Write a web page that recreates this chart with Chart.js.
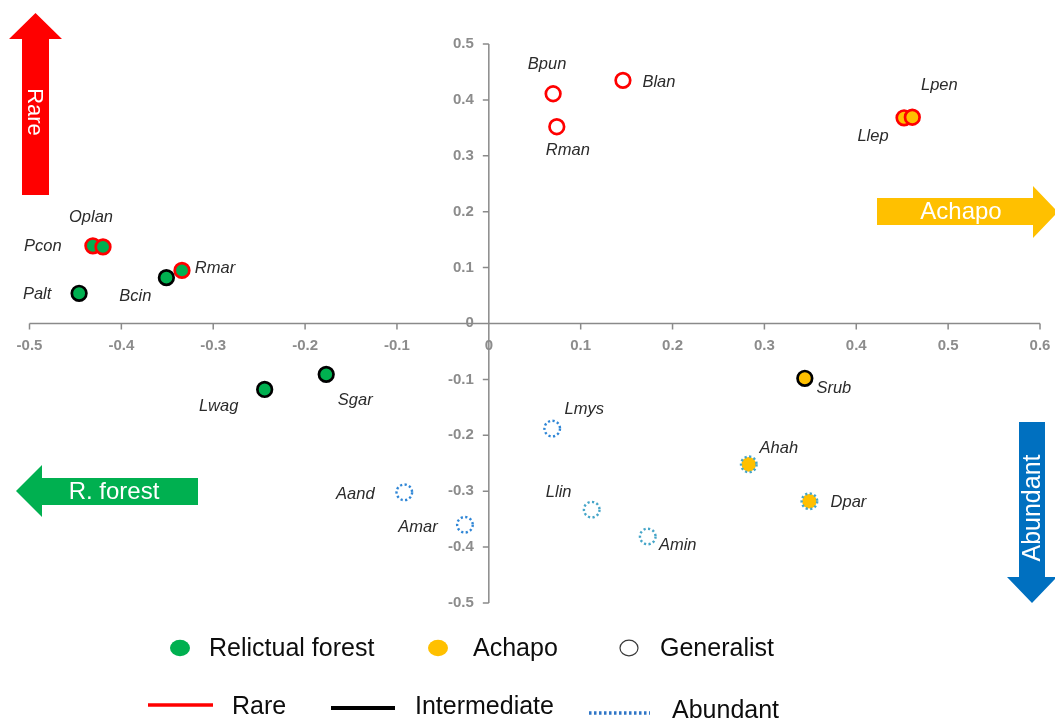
<!DOCTYPE html>
<html>
<head>
<meta charset="utf-8">
<script src="https://cdn.jsdelivr.net/npm/chart.js@4"></script>
<style>
  html, body { margin: 0; padding: 0; background: #ffffff; }
  #c { display: block; }
</style>
</head>
<body>
<canvas id="c" width="1055" height="722"></canvas>
<script>
// ---- Species coordinates, grouped by habitat and abundance ----
const forestInterNames = ['Palt', 'Bcin', 'Lwag', 'Sgar'];
const forestInterX = [-0.446, -0.351, -0.244, -0.177];
const forestInterY = [0.054, 0.082, -0.118, -0.091];

const forestRareNames = ['Pcon', 'Oplan', 'Rmar'];
const forestRareX = [-0.431, -0.420, -0.334];
const forestRareY = [0.139, 0.137, 0.095];

const achapoRareNames = ['Llep', 'Lpen'];
const achapoRareX = [0.452, 0.461];
const achapoRareY = [0.368, 0.369];

const achapoInterNames = ['Srub'];
const achapoInterX = [0.344];
const achapoInterY = [-0.098];

const achapoAbundNames = ['Ahah', 'Dpar'];
const achapoAbundX = [0.283, 0.349];
const achapoAbundY = [-0.252, -0.318];

const generalistRareNames = ['Bpun', 'Rman', 'Blan'];
const generalistRareX = [0.070, 0.074, 0.146];
const generalistRareY = [0.411, 0.352, 0.435];

const generalistAbundNames = ['Aand', 'Amar', 'Lmys', 'Llin', 'Amin'];
const generalistAbundX = [-0.092, -0.026, 0.069, 0.112, 0.173];
const generalistAbundY = [-0.302, -0.360, -0.188, -0.333, -0.381];

// ---- Axis ticks ----
const xTickValues = [-0.5, -0.4, -0.3, -0.2, -0.1, 0, 0.1, 0.2, 0.3, 0.4, 0.5, 0.6];
const xTickLabels = ['-0.5', '-0.4', '-0.3', '-0.2', '-0.1', '0', '0.1', '0.2', '0.3', '0.4', '0.5', '0.6'];
const yTickValues = [0.5, 0.4, 0.3, 0.2, 0.1, 0, -0.1, -0.2, -0.3, -0.4, -0.5];
const yTickLabels = ['0.5', '0.4', '0.3', '0.2', '0.1', '0', '-0.1', '-0.2', '-0.3', '-0.4', '-0.5'];

// ---- Legend entries ----
const habitatLegend = ['Relictual forest', 'Achapo', 'Generalist'];
const abundanceLegend = ['Rare', 'Intermediate', 'Abundant'];

const GREEN = '#00b050';
const YELLOW = '#ffc000';
const RED = '#ff0000';
const BLUE = '#2f86d6';
const TEAL = '#45a5c8';

function pts(xs, ys) { return xs.map((x, i) => ({ x: x, y: ys[i] })); }

// Offsets (px) of each name label from its marker centre
const labelOffset = {
  Palt: [-42, 1], Bcin: [-31, 19], Lwag: [-46, 17], Sgar: [29, 26],
  Pcon: [-50, 1], Oplan: [-12, -30], Rmar: [33, -2],
  Llep: [-31, 19], Lpen: [27, -32], Srub: [29, 10],
  Ahah: [30, -16], Dpar: [39, 1],
  Bpun: [-6, -29], Rman: [11, 24], Blan: [36, 2],
  Aand: [-49, 2], Amar: [-47, 3], Lmys: [32, -19], Llin: [-33, -17], Amin: [30, 9]
};

const datasets = [
  { names: forestInterNames, data: pts(forestInterX, forestInterY),
    backgroundColor: GREEN, borderColor: '#000000' },
  { names: forestRareNames, data: pts(forestRareX, forestRareY),
    backgroundColor: GREEN, borderColor: RED },
  { names: achapoRareNames, data: pts(achapoRareX, achapoRareY),
    backgroundColor: YELLOW, borderColor: RED },
  { names: achapoInterNames, data: pts(achapoInterX, achapoInterY),
    backgroundColor: YELLOW, borderColor: '#000000' },
  { names: achapoAbundNames, data: pts(achapoAbundX, achapoAbundY),
    backgroundColor: YELLOW, borderColor: 'rgba(0,0,0,0)', dotted: [TEAL, TEAL] },
  { names: generalistRareNames, data: pts(generalistRareX, generalistRareY),
    backgroundColor: '#ffffff', borderColor: RED },
  { names: generalistAbundNames, data: pts(generalistAbundX, generalistAbundY),
    backgroundColor: '#ffffff', borderColor: 'rgba(0,0,0,0)', dotted: [BLUE, BLUE, BLUE, TEAL, TEAL] }
].map(d => Object.assign({
  pointRadius: 7.3, pointHoverRadius: 7.3, borderWidth: 2.7, pointStyle: 'circle'
}, d));

// Axes crossing at the origin, with tick marks and labels
const crossAxes = {
  id: 'crossAxes',
  beforeDatasetsDraw(chart) {
    const ctx = chart.ctx, xs = chart.scales.x, ys = chart.scales.y, a = chart.chartArea;
    const x0 = xs.getPixelForValue(0), y0 = ys.getPixelForValue(0);
    ctx.save();
    ctx.strokeStyle = '#8a8a8a';
    ctx.lineWidth = 1.5;
    ctx.beginPath();
    ctx.moveTo(a.left, y0); ctx.lineTo(a.right, y0);
    ctx.moveTo(x0, a.top); ctx.lineTo(x0, a.bottom);
    xTickValues.forEach(v => {
      const px = xs.getPixelForValue(v);
      ctx.moveTo(px, y0); ctx.lineTo(px, y0 + 6);
    });
    yTickValues.forEach(v => {
      const py = ys.getPixelForValue(v);
      ctx.moveTo(x0 - 6, py); ctx.lineTo(x0, py);
    });
    ctx.stroke();

    ctx.fillStyle = '#8c8c8c';
    ctx.font = 'bold 15px "Liberation Sans", Arial, sans-serif';
    ctx.textBaseline = 'middle';
    ctx.textAlign = 'center';
    xTickValues.forEach((v, i) => {
      ctx.fillText(xTickLabels[i], xs.getPixelForValue(v), y0 + 22);
    });
    ctx.textAlign = 'right';
    yTickValues.forEach((v, i) => {
      ctx.fillText(yTickLabels[i], x0 - 15, ys.getPixelForValue(v) - (v === 0 ? 1 : 0));
    });
    ctx.restore();
  }
};

// Dotted marker outlines and species name labels
const markerExtras = {
  id: 'markerExtras',
  afterDatasetsDraw(chart) {
    const ctx = chart.ctx;
    ctx.save();
    chart.data.datasets.forEach((ds, di) => {
      const meta = chart.getDatasetMeta(di);
      meta.data.forEach((el, i) => {
        if (ds.dotted) {
          ctx.beginPath();
          ctx.setLineDash([2.2, 2.4]);
          ctx.lineWidth = 2.4;
          ctx.strokeStyle = ds.dotted[i];
          ctx.arc(el.x, el.y, 7.8, 0, Math.PI * 2);
          ctx.stroke();
          ctx.setLineDash([]);
        }
      });
    });
    ctx.fillStyle = '#2b2b2b';
    ctx.font = 'italic 16.5px "Liberation Sans", Arial, sans-serif';
    ctx.textAlign = 'center';
    ctx.textBaseline = 'middle';
    chart.data.datasets.forEach((ds, di) => {
      const meta = chart.getDatasetMeta(di);
      meta.data.forEach((el, i) => {
        const name = ds.names[i];
        const off = labelOffset[name] || [0, -20];
        ctx.fillText(name, el.x + off[0], el.y + off[1]);
      });
    });
    ctx.restore();
  }
};

// Direction arrows and the two-row legend
function poly(ctx, p, color) {
  ctx.beginPath();
  ctx.moveTo(p[0][0], p[0][1]);
  for (let i = 1; i < p.length; i++) ctx.lineTo(p[i][0], p[i][1]);
  ctx.closePath();
  ctx.fillStyle = color;
  ctx.fill();
}

const decorations = {
  id: 'decorations',
  afterDraw(chart) {
    const ctx = chart.ctx;
    ctx.save();
    // Rare (up)
    poly(ctx, [[22, 195], [22, 39], [9, 39], [35.5, 13], [62, 39], [49, 39], [49, 195]], RED);
    // Achapo (right)
    poly(ctx, [[877, 198], [1033, 198], [1033, 186], [1058, 212], [1033, 238], [1033, 225], [877, 225]], YELLOW);
    // R. forest (left)
    poly(ctx, [[198, 478], [42, 478], [42, 465], [16, 491], [42, 517], [42, 505], [198, 505]], GREEN);
    // Abundant (down)
    poly(ctx, [[1019, 422], [1045, 422], [1045, 577], [1057, 577], [1032, 603], [1007, 577], [1019, 577]], '#0070c0');

    ctx.fillStyle = '#ffffff';
    ctx.textAlign = 'center';
    ctx.textBaseline = 'middle';
    ctx.font = '24px "Liberation Sans", Arial, sans-serif';
    ctx.fillText('Achapo', 961, 212);
    ctx.fillText('R. forest', 114, 492);
    ctx.save();
    ctx.translate(34, 112);
    ctx.rotate(Math.PI / 2);
    ctx.font = '22px "Liberation Sans", Arial, sans-serif';
    ctx.fillText('Rare', 0, 0);
    ctx.restore();
    ctx.save();
    ctx.translate(1033, 508);
    ctx.rotate(-Math.PI / 2);
    ctx.font = '25px "Liberation Sans", Arial, sans-serif';
    ctx.fillText('Abundant', 0, 0);
    ctx.restore();

    // Legend row 1: habitat
    ctx.textAlign = 'left';
    ctx.fillStyle = '#000000';
    ctx.font = '25px "Liberation Sans", Arial, sans-serif';
    const row1 = 648;
    ctx.beginPath(); ctx.ellipse(180, row1, 10, 8.3, 0, 0, Math.PI * 2);
    ctx.fillStyle = GREEN; ctx.fill();
    ctx.beginPath(); ctx.ellipse(438, row1, 10, 8.3, 0, 0, Math.PI * 2);
    ctx.fillStyle = YELLOW; ctx.fill();
    ctx.beginPath(); ctx.ellipse(629, row1, 9, 7.8, 0, 0, Math.PI * 2);
    ctx.fillStyle = '#ffffff'; ctx.fill();
    ctx.strokeStyle = '#3a3a3a'; ctx.lineWidth = 1.2; ctx.stroke();
    ctx.fillStyle = '#0d0d0d';
    ctx.fillText(habitatLegend[0], 209, row1 + 1);
    ctx.fillText(habitatLegend[1], 473, row1 + 1);
    ctx.fillText(habitatLegend[2], 660, row1 + 1);

    // Legend row 2: abundance
    ctx.lineWidth = 3.5;
    ctx.strokeStyle = RED;
    ctx.beginPath(); ctx.moveTo(148, 705); ctx.lineTo(213, 705); ctx.stroke();
    ctx.lineWidth = 4;
    ctx.strokeStyle = '#000000';
    ctx.beginPath(); ctx.moveTo(331, 708); ctx.lineTo(395, 708); ctx.stroke();
    ctx.lineWidth = 3.5;
    ctx.strokeStyle = '#2e75c6';
    ctx.setLineDash([2.5, 2.5]);
    ctx.beginPath(); ctx.moveTo(589, 713); ctx.lineTo(650, 713); ctx.stroke();
    ctx.setLineDash([]);
    ctx.fillStyle = '#0d0d0d';
    ctx.fillText(abundanceLegend[0], 232, 707);
    ctx.fillText(abundanceLegend[1], 415, 707);
    ctx.fillText(abundanceLegend[2], 672, 711);
    ctx.restore();
  }
};

new Chart(document.getElementById('c'), {
  type: 'scatter',
  data: { datasets: datasets },
  options: {
    responsive: false,
    animation: false,
    devicePixelRatio: 1,
    layout: { padding: { left: 29.5, right: 15, top: 44, bottom: 119 } },
    scales: {
      x: { type: 'linear', min: -0.5, max: 0.6, display: false },
      y: { type: 'linear', min: -0.5, max: 0.5, display: false }
    },
    plugins: { legend: { display: false }, tooltip: { enabled: false } },
    events: []
  },
  plugins: [crossAxes, markerExtras, decorations]
});
</script>
</body>
</html>
